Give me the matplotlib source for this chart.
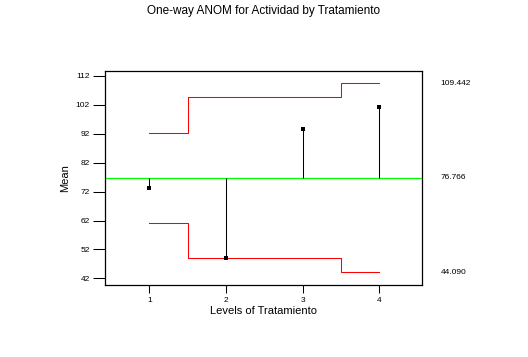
import matplotlib
matplotlib.use("Agg")
import matplotlib.pyplot as plt

# ANOM data
levels = [1, 2, 3, 4]
means = [73.1, 49.1, 93.6, 101.3]
center = 76.766
half_width = [15.6, 27.8, 27.8, 32.676]
limit_labels = ["109.442", "76.766", "44.090"]
y_ticks = [42, 52, 62, 72, 82, 92, 102, 112]

plt.rcParams['font.family'] = ['Liberation Sans', 'DejaVu Sans']

fig = plt.figure(figsize=(5.28, 3.57), dpi=100)
ax = fig.add_axes([105 / 528, 1 - 285 / 357, 317 / 528, 214 / 357])

# step-shaped decision limits
xs, up, lo = [], [], []
for i, lvl in enumerate(levels):
    left = lvl - 0.5 if i > 0 else lvl
    right = lvl + 0.5 if i < len(levels) - 1 else lvl
    xs += [left, right]
    up += [center + half_width[i]] * 2
    lo += [center - half_width[i]] * 2
ax.plot(xs, up, color='#ff0000', lw=0.75)
ax.plot(xs, lo, color='#ff0000', lw=0.75)

ax.axhline(center, color='#00ff00', lw=0.9)

# stems from the center line to each mean
ax.vlines(levels, center, means, color='black', lw=0.75)
ax.plot(levels, means, 's', color='black', ms=2.2, mew=0)

ax.set_xlim(0.42, 4.56)
ax.set_ylim(39.7, 113.7)
ax.set_xticks(levels)
ax.set_yticks(y_ticks)
ax.tick_params(axis='y', length=9, width=0.75, labelsize=6, pad=2)
ax.tick_params(axis='x', length=6, width=0.75, labelsize=6, pad=3)
for s in ax.spines.values():
    s.set_linewidth(0.9)

ax.set_xlabel("Levels of Tratamiento", fontsize=8, labelpad=1)
ax.set_ylabel("Mean", fontsize=8, labelpad=4)
fig.suptitle("One-way ANOM for Actividad by Tratamiento", fontsize=8.5, y=0.985)

# limit values on the right side
for val, txt in zip([center + half_width[-1], center, center - half_width[-1]], limit_labels):
    ax.text(4.8, val, txt, fontsize=6, va='center', ha='left', clip_on=False)

fig.savefig("out.png", dpi=100)
